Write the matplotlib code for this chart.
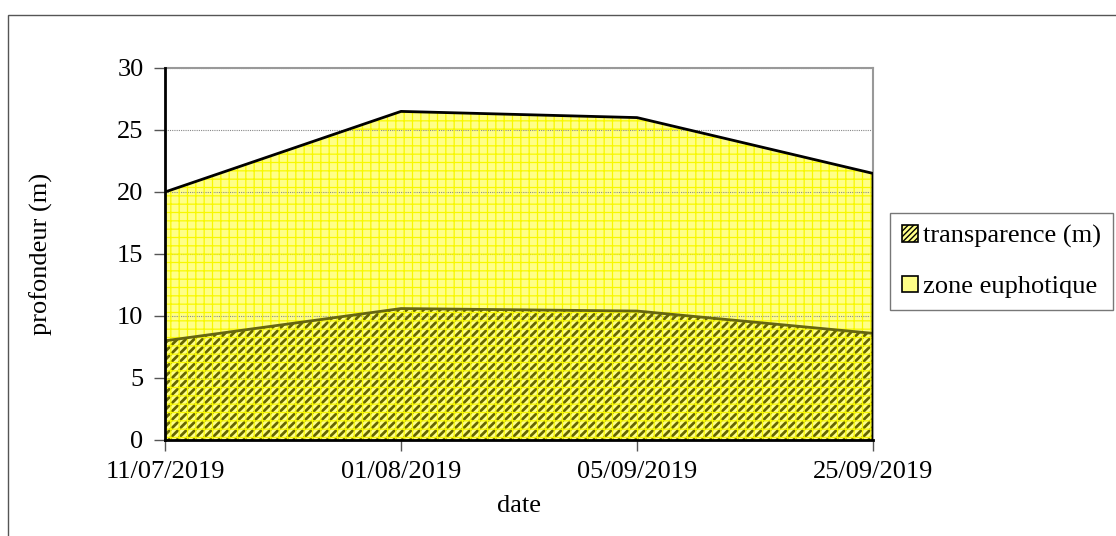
import matplotlib
matplotlib.use("Agg")
import matplotlib.pyplot as plt
from matplotlib.patches import Rectangle, Patch
import numpy as np

dates = ["11/07/2019", "01/08/2019", "05/09/2019", "25/09/2019"]
zone_euphotique = [20.0, 26.5, 26.0, 21.5]
transparence = [8.0, 10.6, 10.4, 8.6]

plt.rcParams['font.family'] = ['Liberation Serif', 'DejaVu Serif']

fig = plt.figure(figsize=(11.16, 5.36), dpi=100)
fig.patches.append(Rectangle((8/1116, -0.1), 1.2, 0.1 + (536-15)/536, transform=fig.transFigure,
                             fill=False, edgecolor='#555555', linewidth=1.0))
ax = fig.add_axes([165/1116, 96/536, 708/1116, 372/536])

x = np.arange(len(dates))
fs = 19

def hatched(lw, *args, **kw):
    with plt.rc_context({'hatch.linewidth': lw}):
        c = ax.fill_between(*args, **kw)
    if hasattr(c, 'set_hatch_linewidth'):
        c.set_hatch_linewidth(lw)
    return c

# base light yellow
ax.fill_between(x, 0, zone_euphotique, facecolor='#FFFF88', linewidth=0, zorder=1.5)
# transparency: olive diagonal hatch
hatched(2.0, x, 0, transparence, facecolor='none', edgecolor='#666600',
        hatch='////', linewidth=0, zorder=2)
# yellow grid pattern over euphotic zone
hatched(0.9, x, 0, zone_euphotique, facecolor='none', edgecolor='#F8F800',
        hatch='++', linewidth=0, zorder=2.5)
ax.plot(x, transparence, color='#666610', linewidth=2, zorder=4)
ax.plot(np.r_[x, x[-1]], list(zone_euphotique) + [0], color='black', linewidth=2, zorder=5)

ax.set_xlim(0, len(dates) - 1)
ax.set_ylim(0, 30)
ax.set_yticks(range(0, 31, 5))
ax.set_xticks(x)
ax.set_xticklabels(dates)
ax.tick_params(axis='both', labelsize=fs, direction='out', length=8, width=1, color='#555555')
ax.tick_params(axis='x', pad=7)
ax.tick_params(axis='y', pad=7.5)
ax.yaxis.grid(True, linestyle=(0, (1, 1)), color='#888888', linewidth=0.8)
for gl in ax.get_ygridlines():
    gl.set_zorder(3)

for s in ['top', 'right']:
    ax.spines[s].set_color('#999999')
    ax.spines[s].set_linewidth(1.5)
for s in ['left', 'bottom']:
    ax.spines[s].set_color('black')
    ax.spines[s].set_linewidth(2)
    ax.spines[s].set_zorder(6)

ax.set_xlabel("date", fontsize=fs, labelpad=9)
ax.set_ylabel("profondeur (m)", fontsize=fs, labelpad=46)

handles = [Patch(facecolor='#FFFF88', edgecolor='black', hatch='//////', linewidth=1.2),
           Patch(facecolor='#FFFF88', edgecolor='black', linewidth=1.2)]
leg = fig.legend(handles, ["transparence (m)", "zone euphotique"], loc='upper left',
                 bbox_to_anchor=(890/1116, (536-213)/536), fontsize=fs, frameon=True,
                 fancybox=False, edgecolor='#555555', handlelength=0.6, handleheight=0.6,
                 handletextpad=0.2, borderpad=0.45, labelspacing=1.05, borderaxespad=0)
leg.get_frame().set_linewidth(1.0)

fig.savefig("out.png", dpi=100)
